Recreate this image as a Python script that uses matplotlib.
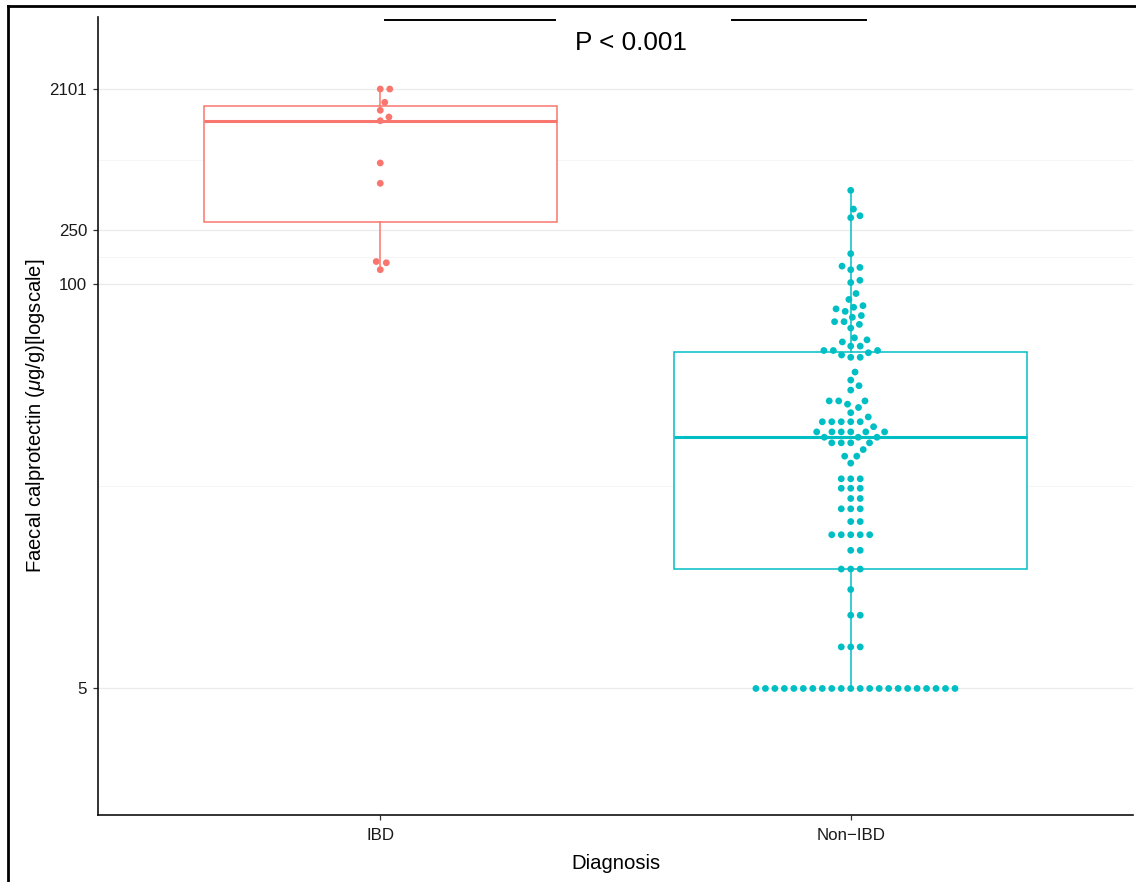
import numpy as np
import matplotlib
matplotlib.use("Agg")
import matplotlib.pyplot as plt
from matplotlib import cbook
from matplotlib.lines import Line2D
import seaborn as sns

plt.rcParams['font.family'] = ['Liberation Sans', 'DejaVu Sans']
plt.rcParams['mathtext.fontset'] = 'custom'
plt.rcParams['mathtext.rm'] = 'Liberation Sans'
plt.rcParams['mathtext.it'] = 'Liberation Sans:italic'

# data (ug/g)
groups = ['IBD', 'Non-IBD']
tick_labels = ['IBD', 'Non\u2212IBD']
colors = ['#F8766D', '#00BFC4']

ibd_values = [2101, 2101, 1719, 1524, 1377, 1302, 688, 506, 146, 143, 127]

non_values = [455, 343, 310, 301, 167, 135, 132, 127, 106, 102,
              93, 89, 85, 84, 83, 81.5, 79, 78, 75.5, 74, 72, 67, 66, 65,
              63, 61, 60, 59, 58, 52, 49, 47, 45.5, 42, 41, 40, 38.5, 37.3,
              36, 34.7, 33.4, 32.1, 30.8, 29.3, 27.9, 26.5, 23.6, 22, 20.4,
              18.9, 17.2, 15.6, 13.9, 12.1, 10.4, 8.6, 6.8, 5]
non_counts = [1, 1, 1, 1, 1, 1, 1, 1, 1, 1,
              1, 1, 1, 1, 1, 1, 1, 1, 2, 1, 1, 1, 1, 1,
              2, 3, 1, 1, 2, 1, 1, 1, 1, 3, 1, 1, 1, 1,
              5, 1, 6, 3, 4, 1, 2, 1, 3, 3, 2,
              3, 2, 5, 2, 3, 1, 2, 3, 22]

y_breaks = [5, 100, 250, 2101]
y_limits = (1.96, 6233)

# the y axis of the original is a stretched log scale: piecewise log between breaks
LOGS = np.log10(y_breaks)
POS = np.array([0, 404.8, 458.5, 599.5])
s_lo = (POS[1] - POS[0]) / (LOGS[1] - LOGS[0])
s_hi = (POS[-1] - POS[-2]) / (LOGS[-1] - LOGS[-2])


def forward(v):
    v = np.asarray(v, dtype=float)
    g = np.log10(np.clip(v, 1e-12, None))
    u = np.interp(g, LOGS, POS)
    u = np.where(g < LOGS[0], POS[0] + (g - LOGS[0]) * s_lo, u)
    u = np.where(g > LOGS[-1], POS[-1] + (g - LOGS[-1]) * s_hi, u)
    return u


def inverse(u):
    u = np.asarray(u, dtype=float)
    g = np.interp(u, POS, LOGS)
    g = np.where(u < POS[0], LOGS[0] + (u - POS[0]) / s_lo, g)
    g = np.where(u > POS[-1], LOGS[-1] + (u - POS[-1]) / s_hi, g)
    with np.errstate(over='ignore'):
        return 10 ** g


non_all = np.repeat(non_values, non_counts)
data = [np.array(ibd_values, float), non_all]

fig = plt.figure(figsize=(11.36, 8.82), dpi=100)
ax = fig.add_axes([98 / 1136, 1 - 815 / 882, 1035 / 1136, 798 / 882])
ax.set_yscale('function', functions=(forward, inverse))

# boxplots, quantiles taken on the transformed scale like ggplot does
for i, vals in enumerate(data):
    st = cbook.boxplot_stats(forward(vals), whis=(0, 100))[0]
    for k in ('med', 'q1', 'q3', 'whislo', 'whishi', 'mean'):
        st[k] = float(inverse(st[k]))
    st['fliers'] = []
    c = colors[i]
    ax.bxp([st], positions=[i], widths=0.75, showfliers=False, showcaps=False,
           patch_artist=True, manage_ticks=False,
           boxprops=dict(facecolor='white', edgecolor=c, linewidth=1.1),
           whiskerprops=dict(color=c, linewidth=1.1),
           medianprops=dict(color=c, linewidth=2.2, solid_capstyle='butt'),
           zorder=2)

cats = ['IBD'] * len(ibd_values) + ['Non-IBD'] * len(non_all)
yy = np.concatenate(data)
# invisible edge widens the swarm spacing a bit, like the original dots
sns.swarmplot(x=cats, y=yy, hue=cats, order=groups, hue_order=groups,
              palette=colors, size=4.9, linewidth=1.6, edgecolor='none',
              legend=False, ax=ax, zorder=3)

ax.set_xlim(-0.6, 1.6)
ax.set_ylim(*y_limits)
ax.set_xticks([0, 1])
ax.set_xticklabels(tick_labels)
ax.set_yticks(y_breaks)
ax.set_yticklabels([str(b) for b in y_breaks])
minor = [float(inverse((forward(a) + forward(b)) / 2))
         for a, b in zip(y_breaks[:-1], y_breaks[1:])]
ax.set_yticks(minor, minor=True)
ax.yaxis.grid(True, which='major', color='#EBEBEB', linewidth=0.9)
ax.yaxis.grid(True, which='minor', color='#F5F5F5', linewidth=0.7)
ax.xaxis.grid(False)
ax.set_axisbelow(True)

for side in ('top', 'right'):
    ax.spines[side].set_visible(False)
for side in ('left', 'bottom'):
    ax.spines[side].set_linewidth(1.2)
    ax.spines[side].set_color('#111111')
ax.tick_params(which='major', length=3.6, width=0.9, color='#333333',
               labelsize=12.2, labelcolor='#1a1a1a', pad=4.2)
ax.tick_params(axis='x', which='major', pad=5.5)
ax.tick_params(which='minor', length=0)

ax.set_xlabel('Diagnosis', fontsize=14.6, labelpad=8)
ax.set_ylabel(r'Faecal calprotectin ($\mu$g/g)[logscale]', fontsize=14.6)
ax.yaxis.set_label_coords(-0.049, 0.5)

# p-value annotation
ax.plot([0.010, 0.371], [0.9962, 0.9962], color='black', lw=1.4,
        transform=ax.get_xaxis_transform(), clip_on=False)
ax.plot([0.747, 1.033], [0.9962, 0.9962], color='black', lw=1.4,
        transform=ax.get_xaxis_transform(), clip_on=False)
ax.text(0.532, 0.9586, 'P < 0.001', fontsize=18.8, ha='center', va='baseline',
        transform=ax.get_xaxis_transform())

# outer frame
fig.add_artist(Line2D([8 / 1136, 1], [1 - 6 / 882, 1 - 6 / 882],
                      transform=fig.transFigure, color='black', lw=2))
fig.add_artist(Line2D([8 / 1136, 8 / 1136], [0, 1 - 6 / 882],
                      transform=fig.transFigure, color='black', lw=2))

# seaborn packs ties to the left first, the original packs them to the right:
# lay the swarm out once, then mirror it about each category centre
fig.canvas.draw()
for i, coll in enumerate(ax.collections):
    off = np.array(coll.get_offsets())
    off[:, 0] = 2 * i - off[:, 0]
    coll.set_offsets(off)
    if 'draw' in coll.__dict__:
        del coll.draw

fig.savefig('out.png', dpi=100)
